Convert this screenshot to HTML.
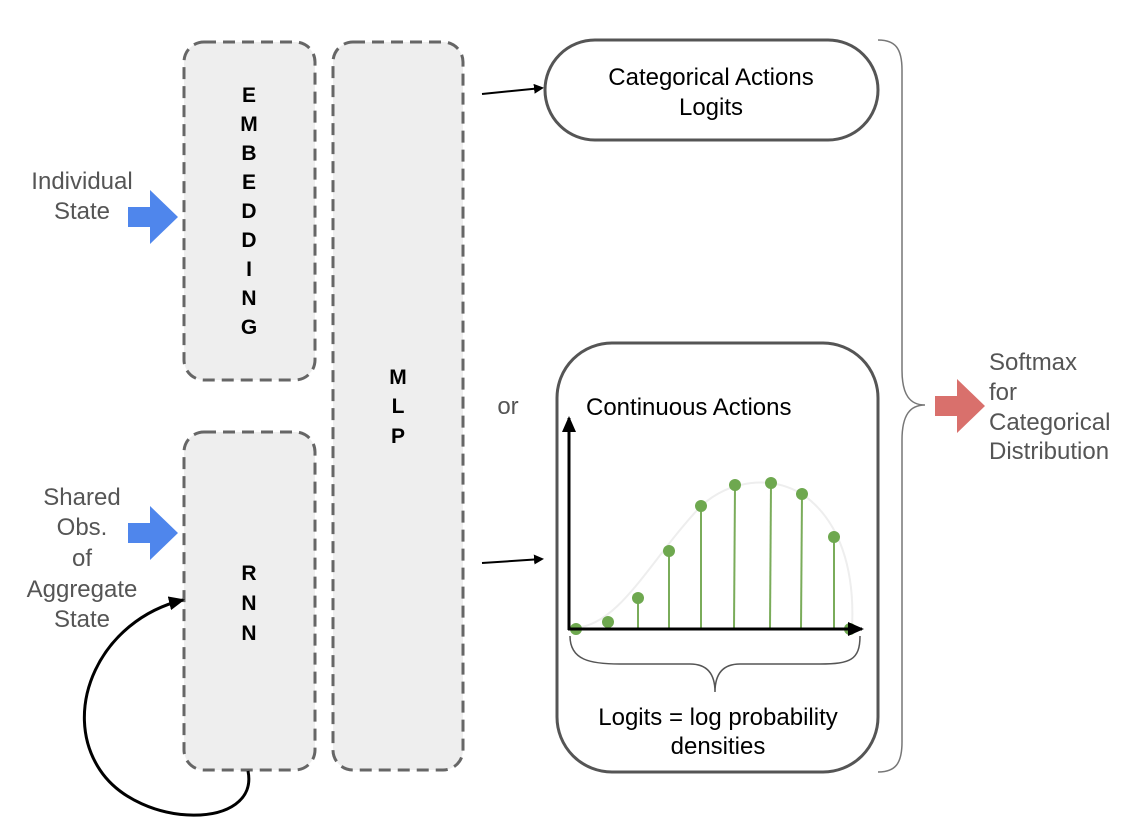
<!DOCTYPE html>
<html><head><style>body{margin:0;background:#fff}svg{display:block}text{font-family:"Liberation Sans",Arial,sans-serif}</style></head><body>
<svg width="1130" height="834" viewBox="0 0 1130 834" xmlns="http://www.w3.org/2000/svg">
<defs>
<marker id="ah" markerWidth="10" markerHeight="10" refX="8" refY="5" orient="auto" markerUnits="userSpaceOnUse"><path d="M0,0 L10,5 L0,10 z" fill="#000"/></marker>
<marker id="ah2" markerWidth="16" markerHeight="14" refX="14" refY="7" orient="auto" markerUnits="userSpaceOnUse"><path d="M0,0 L16,7 L0,14 z" fill="#000"/></marker>
</defs>
<g fill="#eeeeee" stroke="#666" stroke-width="3" stroke-dasharray="12 7">
<rect x="184" y="42" width="131" height="338" rx="20"/>
<rect x="184" y="432" width="131" height="338" rx="20"/>
<rect x="333" y="42" width="130" height="728" rx="20"/>
</g>
<g font-weight="bold" font-size="21" text-anchor="middle" fill="#000">
<text x="249" y="102">E</text><text x="249" y="131">M</text><text x="249" y="160">B</text><text x="249" y="189">E</text><text x="249" y="218">D</text><text x="249" y="247">D</text><text x="249" y="276">I</text><text x="249" y="305">N</text><text x="249" y="334">G</text>
<text x="249" y="580">R</text><text x="249" y="610">N</text><text x="249" y="640">N</text>
<text x="398" y="384">M</text><text x="398" y="413">L</text><text x="398" y="443">P</text>
</g>
<g font-size="24" fill="#555" text-anchor="middle">
<text x="82" y="189">Individual</text><text x="82" y="219">State</text>
<text x="82" y="505">Shared</text><text x="82" y="535">Obs.</text><text x="82" y="566">of</text><text x="82" y="597">Aggregate</text><text x="82" y="627">State</text>
<text x="508" y="414">or</text>
</g>
<g font-size="24" fill="#555">
<text x="989" y="370">Softmax</text><text x="989" y="400">for</text><text x="989" y="430">Categorical</text><text x="989" y="459">Distribution</text>
</g>
<path d="M128,207 h22 v-17 l28,27 l-28,27 v-17 h-22z" fill="#4f86ec"/>
<path d="M128,523 h22 v-17 l28,27 l-28,27 v-17 h-22z" fill="#4f86ec"/>
<path d="M935,396 h22 v-17 l28,27 l-28,27 v-17 h-22z" fill="#d9706c"/>
<path d="M248,771 C260,830 140,830 100,770 C60,710 100,620 183,600" fill="none" stroke="#000" stroke-width="3" marker-end="url(#ah2)"/>
<line x1="482" y1="94" x2="542" y2="88" stroke="#000" stroke-width="2" marker-end="url(#ah)"/>
<line x1="482" y1="563" x2="542" y2="559" stroke="#000" stroke-width="2" marker-end="url(#ah)"/>
<rect x="545" y="40" width="333" height="100" rx="50" fill="#fff" stroke="#555" stroke-width="3"/>
<text x="711" y="85" font-size="24" text-anchor="middle">Categorical Actions</text>
<text x="711" y="115" font-size="24" text-anchor="middle">Logits</text>
<rect x="557" y="343" width="321" height="429" rx="55" fill="#fff" stroke="#555" stroke-width="3"/>
<text x="586" y="415" font-size="24">Continuous Actions</text>
<path d="M575,628 C620,625 650,560 701,506 C730,480 770,475 802,494 C840,520 855,570 852,628" fill="none" stroke="#eee" stroke-width="2"/>
<g stroke="#7aac5a" stroke-width="2">
<line x1="638" y1="598" x2="638" y2="628"/><line x1="669" y1="551" x2="669" y2="628"/><line x1="701" y1="506" x2="701" y2="628"/><line x1="735" y1="485" x2="734" y2="628"/><line x1="771" y1="483" x2="770" y2="628"/><line x1="802" y1="494" x2="801" y2="628"/><line x1="834" y1="537" x2="834" y2="628"/>
</g>
<g fill="#6ea84f">
<circle cx="576" cy="629" r="6"/><circle cx="608" cy="622" r="6"/><circle cx="638" cy="598" r="6"/><circle cx="669" cy="551" r="6"/><circle cx="701" cy="506" r="6"/><circle cx="735" cy="485" r="6"/><circle cx="771" cy="483" r="6"/><circle cx="802" cy="494" r="6"/><circle cx="834" cy="537" r="6"/><circle cx="850" cy="629" r="6"/>
</g>
<line x1="569" y1="630" x2="569" y2="418" stroke="#000" stroke-width="3" marker-end="url(#ah2)"/>
<line x1="568" y1="629" x2="862" y2="629" stroke="#000" stroke-width="3" marker-end="url(#ah2)"/>
<path d="M570,636 C570,660 590,664 620,664 L690,664 C708,664 715,675 715,692 C715,675 722,664 740,664 L820,664 C850,664 860,660 860,636" fill="none" stroke="#555" stroke-width="1.5"/>
<text x="718" y="725" font-size="24" text-anchor="middle">Logits = log probability</text>
<text x="718" y="754" font-size="24" text-anchor="middle">densities</text>
<path d="M878,40 C895,40 902,48 902,70 L902,370 C902,395 910,405 925,405 C910,405 902,415 902,440 L902,742 C902,764 895,772 878,772" fill="none" stroke="#777" stroke-width="1.5"/>
</svg>
</body></html>
